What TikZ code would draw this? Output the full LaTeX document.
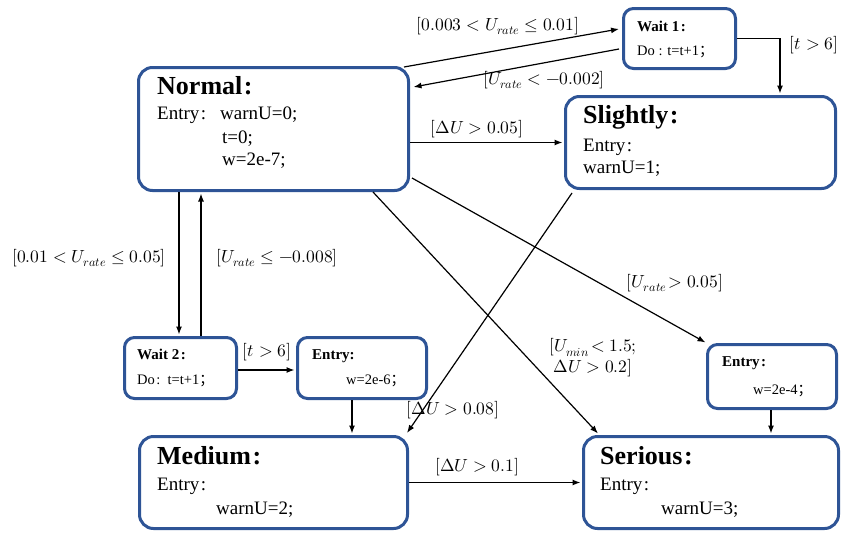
\documentclass[tikz,border=0pt]{standalone}
\usepackage{fontspec}
\usepackage{unicode-math}
\setmainfont{Liberation Serif}
\setmathfont{Latin Modern Math}
\newfontfamily\cjk{Noto Sans CJK SC}
\newcommand{\fcol}{\kern1.5pt:}
\newcommand{\fsem}{{\cjk ；}}
\usetikzlibrary{arrows.meta}
\definecolor{boxblue}{RGB}{46,84,150}
\tikzset{
  box/.style={draw=boxblue, line width=3pt, rounded corners=14pt, inner sep=0pt},
  sbox/.style={box, rounded corners=10pt},
  conn/.style={draw=black, line width=1.2pt, -{Latex[length=8pt,width=6pt]}},
  lbl/.style={font=\fontsize{17.5}{21}\selectfont, inner sep=0pt},
  ttl/.style={anchor=base west, inner sep=0pt, font=\fontsize{26}{30}\selectfont\bfseries},
  txt/.style={anchor=base west, inner sep=0pt, font=\fontsize{19}{22}\selectfont},
  stl/.style={anchor=base west, inner sep=0pt, font=\fontsize{15}{18}\selectfont\bfseries},
  stx/.style={anchor=base west, inner sep=0pt, font=\fontsize{14.5}{17}\selectfont},
}
\begin{document}
\begin{tikzpicture}[x=1pt,y=-1pt]
\path[use as bounding box] (0,0) rectangle (843,533);
% boxes
\node[sbox, minimum width=112pt, minimum height=60pt] (wait1) at (679.5,38.5) {};
\node[box, minimum width=270pt, minimum height=123pt] (normal) at (273.5,129) {};
\node[box, minimum width=270pt, minimum height=92pt] (slightly) at (700.5,142.5) {};
\node[sbox, minimum width=112pt, minimum height=61pt] (wait2) at (180.5,368) {};
\node[sbox, minimum width=129pt, minimum height=61pt] (entryA) at (362,368) {};
\node[sbox, minimum width=129pt, minimum height=64pt] (entryB) at (772,376.5) {};
\node[box, minimum width=268pt, minimum height=92pt] (medium) at (273.5,482.5) {};
\node[box, minimum width=255pt, minimum height=92pt] (serious) at (711,482.5) {};
% texts
\node[stl] (w1t) at (637,31) {Wait 1\fcol};
\node[stx] (w1d) at (637,55) {Do : t=t+1\fsem};
\node[ttl] (nt) at (157,94) {Normal\fcol};
\node[txt] (ne) at (157,119) {Entry\fcol};
\node[txt] (n1) at (220,119) {warnU=0;};
\node[txt] (n2) at (222,143) {t=0;};
\node[txt] (n3) at (222,165) {w=2e-7;};
\node[ttl] (st) at (583,123) {Slightly\fcol};
\node[txt] (se) at (583,151) {Entry\fcol};
\node[txt] (s1) at (583,173) {warnU=1;};
\node[stl] (w2t) at (137,359) {Wait 2\fcol};
\node[stx] (w2d) at (137,384) {Do\fcol\ \ t=t+1\fsem};
\node[stl] (eat) at (312,359) {Entry:};
\node[stx] (ead) at (346,384) {w=2e-6\fsem};
\node[stl] (ebt) at (722,366) {Entry\fcol};
\node[stx] (ebd) at (753,394) {w=2e-4\fsem};
\node[ttl] (mt) at (157,464) {Medium\fcol};
\node[txt] (me) at (157,490) {Entry\fcol};
\node[txt] (m1) at (216,514) {warnU=2;};
\node[ttl] (srt) at (600,464) {Serious\fcol};
\node[txt] (sre) at (600,490) {Entry\fcol};
\node[txt] (sr1) at (661,514) {warnU=3;};
% helper coordinates
\coordinate (a1) at ([shift={(-1.5,-1.5)}]wait2.north);
\coordinate (a2) at ([shift={(20.5,0)}]wait2.north);
\coordinate (a3) at ([shift={(0,1.5)}]normal.south);
\coordinate (a4) at ([shift={(-10,0)}]entryA.south);
\coordinate (a5) at ([shift={(0,-1.5)}]medium.north);
\coordinate (a6) at ([shift={(-1,0)}]entryB.south);
\coordinate (k1) at ([shift={(79.5,-1.5)}]slightly.north);
% connectors
\draw[conn] ([shift={(-6,1)}]normal.north east) -- ([shift={(-3,-9.5)}]wait1.west);
\draw[conn] ([shift={(-3,10.5)}]wait1.west) -- ([shift={(3.5,-42)}]normal.east);
\draw[conn] (wait1.east) -| (k1);
\draw[conn] (normal.east |- slightly.west) -- ([xshift=-1.5pt]slightly.west);
\draw[conn] (a1 |- normal.south) -- (a1);
\draw[conn] (a2) -- (a2 |- a3);
\draw[conn] ([shift={(0,2)}]wait2.east) -- ([shift={(-1.5,2)}]entryA.west);
\draw[conn] (a4) -- (a4 |- a5);
\draw[conn] (a6) -- (a6 |- a5);
\draw[conn] ([shift={(99.5,0)}]normal.south) -- ([shift={(-113,-1.5)}]serious.north);
\draw[conn] ([shift={(2,49)}]normal.east) -- ([shift={(-0.5,-0.5)}]entryB.north west);
\draw[conn] ([shift={(8,3)}]slightly.south west) -- ([shift={(-2,-2)}]medium.north east);
\draw[conn] (medium.east) -- ([xshift=-1.5pt]serious.west);
% labels
\node[lbl] (l1) at (498,26) {$[0.003 < U_{rate} \le 0.01]$};
\node[lbl] (l2) at (544,80) {$[U_{rate} < -0.002]$};
\node[lbl] (l3) at (814,45) {$[t > 6]$};
\node[lbl] (l4) at (477,129) {$[\Delta U > 0.05]$};
\node[lbl] (l5) at (89,258) {$[0.01 < U_{rate} \le 0.05]$};
\node[lbl] (l6) at (277,258) {$[U_{rate} \le -0.008]$};
\node[lbl] (l7) at (267,352) {$[t > 6]$};
\node[lbl] (l8) at (675,283) {$[U_{rate}\!> 0.05]$};
\node[lbl, align=center] (l9) at (593,358) {$[U_{min}\!< 1.5;$\\$\Delta U > 0.2]$};
\node[lbl] (l10) at (453,410) {$[\Delta U > 0.08]$};
\node[lbl] (l11) at (477,467) {$[\Delta U > 0.1]$};
\end{tikzpicture}
\end{document}
